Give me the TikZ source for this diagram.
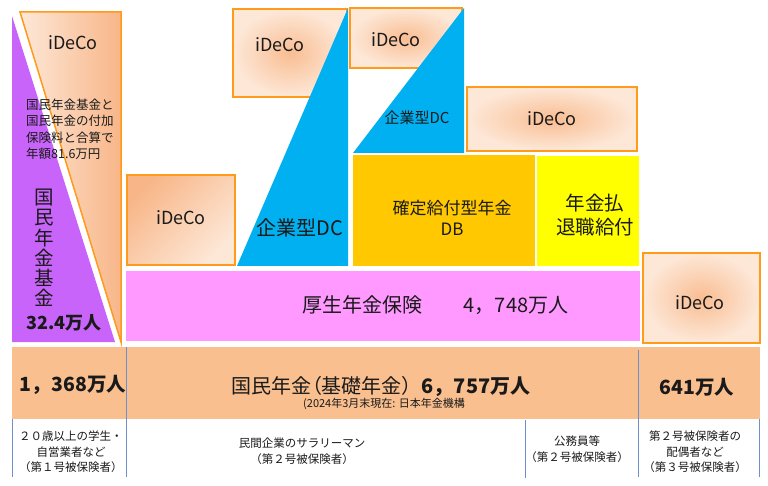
\documentclass[tikz,border=0pt]{standalone}
\usepackage{fontspec}
\setmainfont{Noto Sans CJK JP}
\definecolor{idelight}{HTML}{FDE8D8}
\definecolor{idedark}{HTML}{F8B688}
\definecolor{ideglow}{HTML}{F9BD92}
\definecolor{ideborder}{HTML}{FF9A1A}
\definecolor{kpurple}{HTML}{C864FA}
\definecolor{kblue}{HTML}{00B0F0}
\definecolor{kgold}{HTML}{FFC800}
\definecolor{kyellow}{HTML}{FFFF00}
\definecolor{kpink}{HTML}{FF99FF}
\definecolor{kpeach}{HTML}{F9BF8F}
\definecolor{kline}{HTML}{6E8FCC}
\definecolor{ktext}{HTML}{1A1A1A}
\tikzset{
  box/.style={rectangle, inner sep=0pt, outer sep=0pt},
  idebox/.style={box, draw=ideborder, line width=1.5pt},
  iderad/.style={idebox, inner color=ideglow, outer color=idelight},
  lbl/.style={inner sep=0pt, text=ktext, align=center},
  ide/.style={lbl, font=\fontsize{18}{20}\selectfont},
  big/.style={lbl, font=\fontsize{19.5}{22}\selectfont},
  small/.style={lbl, font=\fontsize{11.5}{15.5}\selectfont},
  divider/.style={draw=kline, line width=0.9pt},
}
\begin{document}
\begin{tikzpicture}[x=1pt,y=-1pt]
\useasboundingbox (0,0) rectangle (768,486);
\fill[white] (0,0) rectangle (768,486);

% left triangles
\fill[kpurple] (12,16) -- (12,342) -- (115,342) -- cycle;
\draw[ideborder, line width=1.5pt, left color=idelight, right color=idedark]
  (20,12) -- (121,12) -- (121,342) -- cycle;
\node[ide] (tri-ide) at (73,43) {iDeCo};
\node[lbl, align=left, anchor=west, font=\fontsize{12.5}{16.5}\selectfont] (tri-note) at (26,129)
  {国民年金基金と\\国民年金の付加\\保険料と合算で\\年額81.6万円};
\node[lbl, font=\fontsize{19.5}{20.2}\selectfont] (kikin) at (44,248)
  {国\\民\\年\\金\\基\\金};
\node[lbl, font=\bfseries\fontsize{18}{20}\selectfont] (kikin-n) at (64,323) {32.4万人};

% iDeCo box near kosei
\node[idebox, minimum width=108pt, minimum height=90pt,
  top color=idedark, bottom color=idelight, shading angle=45] (ide1) at (181,220) {};
\node[ide] (ide1-t) at (181,218) {iDeCo};

% kosei nenkin
\node[box, fill=kpink, minimum width=514pt, minimum height=70pt] (kosei) at (383,306) {};
\node[big, font=\fontsize{20}{22}\selectfont] (kosei-t) at (362,305) {厚生年金保険};
\node[big, font=\fontsize{20}{22}\selectfont] (kosei-n) at (516,305) {4，748万人};

% upper iDeCo boxes and DC triangles
\node[iderad, minimum width=114pt, minimum height=88pt] (ide2) at (290,53) {};
\node[ide] (ide2-t) at (280,45) {iDeCo};
\fill[kblue] (237,266) -- (348,8) -- (348,266) -- cycle;
\node[big, font=\fontsize{20}{22}\selectfont] (dc1) at (300,228) {企業型DC};

\node[iderad, minimum width=112pt, minimum height=60pt] (ide3) at (406,38) {};
\node[ide] (ide3-t) at (396,40) {iDeCo};
\fill[kblue] (353,153) -- (464,8) -- (464,153) -- cycle;
\node[lbl, font=\fontsize{15}{16}\selectfont] (dc2) at (417,118) {企業型DC};

\node[box, fill=kgold, minimum width=182pt, minimum height=111pt] (db) at (444,210.5) {};
\node[lbl, font=\fontsize{17}{21}\selectfont] (db-t) at (452,218) {確定給付型年金\\DB};

\node[box, fill=kyellow, minimum width=102pt, minimum height=110pt] (tai) at (588,211) {};
\node[big, font=\fontsize{19.5}{24}\selectfont] (tai-t) at (595,215) {年金払\\退職給付};

\node[iderad, minimum width=170pt, minimum height=64pt] (ide4) at (552,119) {};
\node[ide] (ide4-t) at (552,119) {iDeCo};

\node[iderad, minimum width=117pt, minimum height=90pt] (ide5) at (701.5,298) {};
\node[ide] (ide5-t) at (700,303) {iDeCo};

% kokumin nenkin bar
\node[box, fill=kpeach, minimum width=748pt, minimum height=72pt] (bar) at (386,383) {};
\node[lbl, font=\bfseries\fontsize{19.5}{22}\selectfont] (n1) at (73,385) {1，368万人};
\node[lbl, font=\fontsize{20}{22}\selectfont] (kiso) at (381,386)
  {国民年金{\addfontfeature{RawFeature=+palt}（}基礎年金）\textbf{6，757万人}};
\node[lbl, font=\fontsize{11}{13}\selectfont] (src) at (384,404) {(2024年3月末現在: 日本年金機構};
\node[lbl, font=\bfseries\fontsize{19.5}{22}\selectfont] (n3) at (697,387) {641万人};

% dividers
\coordinate (d1t) at (126,347); \coordinate (d1b) at (126,477);
\coordinate (d0t) at (12,419);  \coordinate (d0b) at (12,477);
\coordinate (d2t) at (525,420); \coordinate (d2b) at (525,478);
\coordinate (d3t) at (638,350); \coordinate (d3b) at (638,477);
\coordinate (d4t) at (759,419); \coordinate (d4b) at (759,477);
\draw[divider] (d0t) -- (d0b);
\draw[divider] (d1t) -- (d1b);
\draw[divider] (d2t) -- (d2b);
\draw[divider] (d3t) -- (d3b);
\draw[divider] (d4t) -- (d4b);

% bottom labels
\node[small] (g1) at (71,452) {２０歳以上の学生・\\自営業者など\\（第１号被保険者）};
\node[small] (g2) at (302,451) {民間企業のサラリーマン\\（第２号被保険者）};
\node[small] (g2b) at (577,449) {公務員等\\（第２号被保険者）};
\node[small] (g3) at (695,452) {第２号被保険者の\\配偶者など\\（第３号被保険者）};
\end{tikzpicture}
\end{document}
